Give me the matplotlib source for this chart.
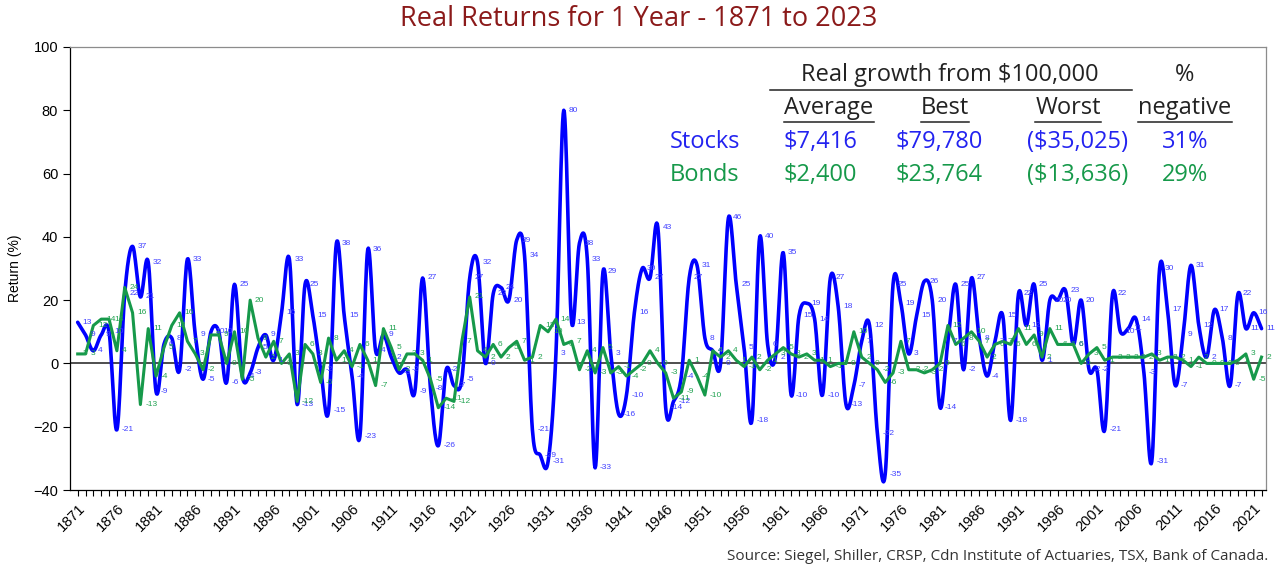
import numpy as np
import matplotlib
matplotlib.use("Agg")
import matplotlib.pyplot as plt
from matplotlib.lines import Line2D

# yearly real returns (%), 1871 onwards
first_year = 1871
stocks = [13, 9, 4, 9, 10, -21, 22, 37, 21, 32, -9, 6, 8, -2, 33, 9, -5, 10, 10, -6,
          25, -4, -3, 5, 9, 1, 16, 33, -13, 25, 15, -2, -15, 38, 15, -4, -23, 36, 4, 9,
          2, -3, -2, -9, 27, -8, -26, -2, -7, -5, 27, 32, 0, 22, 24, 20, 39, 34, -21, -29,
          -31, 3, 80, 13, 38, 33, -33, 29, 3, -16, -10, 16, 30, 27, 43, -14, -12, -4, 27, 31,
          8, 4, 0, 46, 25, 5, -18, 40, 6, 2, 35, -10, 15, 19, 14, -10, 27, 18, -13, -7,
          7, 12, -22, -35, 25, 19, 3, 15, 26, 20, -14, 7, 25, -2, 27, 8, -4, 7, 15, -18,
          22, 12, 25, 1, 20, 20, 23, 6, 20, -2, -2, -21, 22, 10, 11, 14, -3, -31, 30, 17,
          -7, 9, 31, 12, 2, 17, 8, -7, 22, 11, 16, 11]
bonds = [3, 3, 12, 14, 14, 4, 24, 16, -13, 11, -4, 5, 12, 16, 7, 3, -2, 9, 9, 0,
         10, -5, 20, 8, 2, 7, 0, 3, -12, 6, 3, -6, 8, 1, 4, -1, 6, 1, -7, 11,
         5, -2, 3, 3, 1, -5, -14, -11, -12, 7, 21, 4, 2, 6, 2, 5, 7, 1, 2, 12,
         10, 14, 6, 7, -2, 4, -3, 5, -3, -1, -4, -2, 0, 4, 0, -3, -11, -9, 1, -4,
         -10, 4, 2, 4, 1, -1, 2, -2, 1, 3, 5, 3, 2, 3, 1, 1, -1, 0, 0, 10,
         2, 0, -2, -6, -3, 7, -2, -2, -3, -2, 0, 12, 6, 8, 10, 7, 2, 6, 7, 6,
         11, 6, 9, 2, 11, 6, 6, 6, 0, 3, 5, 1, 2, 2, 2, 2, 2, 3, 1, 2,
         2, 1, -1, 2, 0, 0, 0, 0, 1, 3, -5, 2]
years = np.arange(first_year, first_year + len(stocks))

label_years = list(range(1871, 2022, 5))

table_head = ["Average", "Best", "Worst", "negative"]
stock_row = ["$7,416", "$79,780", "($35,025)", "31%"]
bond_row = ["$2,400", "$23,764", "($13,636)", "29%"]

BLUE = "#0000ff"
GREEN = "#16994a"
W, H = 1278, 569


def smooth(x, y, n=14):
    # catmull-rom curve through the points (like excel's smoothed line)
    x = np.asarray(x, float)
    y = np.asarray(y, float)
    px = np.concatenate([[2 * x[0] - x[1]], x, [2 * x[-1] - x[-2]]])
    py = np.concatenate([[2 * y[0] - y[1]], y, [2 * y[-1] - y[-2]]])
    t = np.linspace(0, 1, n, endpoint=False)
    xs, ys = [], []
    for i in range(len(x) - 1):
        for p, out in ((px, xs), (py, ys)):
            p0, p1, p2, p3 = p[i:i + 4]
            out.append(0.5 * (2 * p1 + (p2 - p0) * t + (2 * p0 - 5 * p1 + 4 * p2 - p3) * t ** 2
                              + (3 * p1 - p0 - 3 * p2 + p3) * t ** 3))
    return np.concatenate(xs + [x[-1:]]), np.concatenate(ys + [y[-1:]])


def fx(px):
    return px / W


def fy(py):
    return 1 - py / H


fig = plt.figure(figsize=(W / 100, H / 100), dpi=100)
ax = fig.add_axes([fx(70), fy(490), fx(1266) - fx(70), fy(47) - fy(490)])

sx, sy = smooth(years, stocks)
ax.plot(sx, sy, color=BLUE, lw=2.6, zorder=3, solid_capstyle="round")
ax.plot(years, bonds, color=GREEN, lw=2.2, zorder=4)
ax.axhline(0, color="#404040", lw=1.3, zorder=2)

for yr, v in zip(years, stocks):
    ax.annotate(str(v), (yr, v), xytext=(3.5, 0), textcoords="offset points",
                fontsize=6, color="#4040ff", va="center", ha="left", zorder=6,
                family="Liberation Sans")
for yr, v in zip(years, bonds):
    ax.annotate(str(v), (yr, v), xytext=(3.5, 0), textcoords="offset points",
                fontsize=6, color="#22a352", va="center", ha="left", zorder=6,
                family="Liberation Sans")

ax.set_xlim(first_year - 0.98, first_year + 151.57)
ax.set_ylim(-40, 100)
ax.set_yticks(range(-40, 101, 20))
ax.set_xticks(years)
ax.set_xticklabels([str(y) if y in label_years else "" for y in years],
                   rotation=45, ha="right", rotation_mode="anchor")
ax.tick_params(axis="x", length=4, width=0.8, pad=4, labelsize=10.5)
ax.tick_params(axis="y", length=5, width=0.8, labelsize=10.5)
for lab in ax.get_xticklabels() + ax.get_yticklabels():
    lab.set_family("Liberation Sans")
ax.set_ylabel("Return (%)", fontsize=10, family="Liberation Sans", labelpad=8)

for side in ("top", "right"):
    ax.spines[side].set_color("#8c8c8c")
for side in ("left", "bottom"):
    ax.spines[side].set_color("#000000")
for sp in ax.spines.values():
    sp.set_linewidth(0.9)

fig.text(0.5, fy(19), "Real Returns for 1 Year - 1871 to 2023", ha="center", va="center",
         fontsize=19.5, color="#8b1a1a", family="Open Sans")

fig.text(fx(1268), fy(556), "Source: Siegel, Shiller, CRSP, Cdn Institute of Actuaries, TSX, Bank of Canada.",
         ha="right", va="center", fontsize=11, color="#333333", family="Open Sans")

# summary table in the top right of the plot
tf = dict(fontsize=17, family="Open Sans", va="center")
fig.text(fx(950), fy(75), "Real growth from $100,000", ha="center", color="#222222", **tf)
fig.text(fx(1185), fy(75), "%", ha="center", color="#222222", **tf)
fig.add_artist(Line2D([fx(770), fx(1132)], [fy(90), fy(90)], color="#222222", lw=1.1))

col_x = [829, 945, 1068, 1185]
renderer = fig.canvas.get_renderer()
for cx, txt in zip(col_x, table_head):
    t = fig.text(fx(cx), fy(108), txt, ha="center", color="#222222", **tf)
    bb = t.get_window_extent(renderer=renderer)
    fig.add_artist(Line2D([bb.x0 / W, bb.x1 / W], [fy(122), fy(122)], color="#222222", lw=1.1))

fig.text(fx(670), fy(142), "Stocks", ha="left", color="#2323f0", **tf)
fig.text(fx(670), fy(175), "Bonds", ha="left", color=GREEN, **tf)
for cx, s, b in zip([820, 939, 1078, 1185], stock_row, bond_row):
    fig.text(fx(cx), fy(142), s, ha="center", color="#2323f0", **tf)
    fig.text(fx(cx), fy(175), b, ha="center", color=GREEN, **tf)

fig.savefig("out.png", dpi=100)
